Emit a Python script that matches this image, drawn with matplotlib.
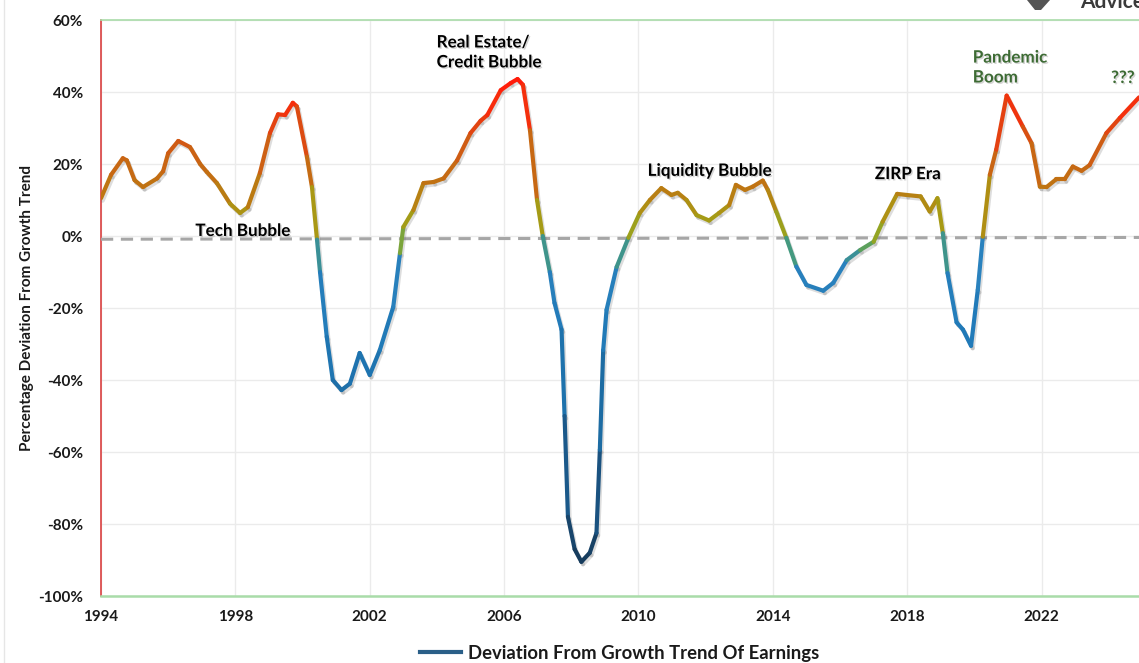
import numpy as np
import matplotlib
matplotlib.use("Agg")
import matplotlib.pyplot as plt
from matplotlib.collections import LineCollection
from matplotlib.colors import LinearSegmentedColormap, Normalize
from matplotlib.lines import Line2D
from matplotlib.patches import Polygon
import matplotlib.patheffects as pe

plt.rcParams['font.family'] = ['Lato', 'DejaVu Sans']

years = [1994.0, 1994.3, 1994.65, 1994.77, 1995.0, 1995.25, 1995.67, 1995.85, 1996.0, 1996.3,
         1996.65, 1996.95, 1997.15, 1997.45, 1997.84, 1998.14, 1998.37, 1998.73, 1999.03, 1999.27,
         1999.48, 1999.71, 1999.83, 2000.13, 2000.28, 2000.43, 2000.52, 2000.72, 2000.9, 2001.16,
         2001.41, 2001.7, 2002.0, 2002.3, 2002.7, 2002.9, 2003.0, 2003.3, 2003.6, 2003.9,
         2004.2, 2004.6, 2005.0, 2005.3, 2005.5, 2005.9, 2006.2, 2006.4, 2006.56, 2006.77,
         2006.98, 2007.15, 2007.36, 2007.5, 2007.71, 2007.8, 2007.9, 2008.1, 2008.3, 2008.55,
         2008.75, 2008.85, 2008.95, 2009.05, 2009.35, 2009.7, 2010.04, 2010.34, 2010.68, 2010.98,
         2011.17, 2011.43, 2011.73, 2012.1, 2012.4, 2012.7, 2012.9, 2013.17, 2013.4, 2013.7,
         2013.85, 2014.1, 2014.4, 2014.7, 2015.0, 2015.5, 2015.8, 2016.2, 2016.6, 2017.0,
         2017.27, 2017.7, 2017.98, 2018.4, 2018.67, 2018.9, 2019.06, 2019.2, 2019.47, 2019.66,
         2019.9, 2020.1, 2020.25, 2020.46, 2020.65, 2020.96, 2021.44, 2021.7, 2021.95, 2022.15,
         2022.44, 2022.69, 2022.93, 2023.19, 2023.43, 2023.93, 2024.33, 2024.9]
deviation = [10.5, 17, 21.6, 21, 15.5, 13.6, 16, 18, 23, 26.4,
             24.7, 20, 17.8, 14.7, 9, 6.4, 8, 17.5, 28.6, 33.8,
             33.6, 37, 36, 22, 13.6, -1, -10, -28, -40, -42.8,
             -41, -32.5, -38.6, -31.7, -19.7, -4.8, 2.5, 7.2, 14.7, 15,
             16, 21, 28.6, 32, 33.6, 40.5, 42.5, 43.6, 42, 29.4,
             10, 0, -10, -18.6, -26, -50, -78, -87, -90.5, -88,
             -82.5, -59.4, -31.7, -20.5, -8.6, -0.5, 6.4, 10, 13.3, 11.4,
             12, 10, 5.8, 4.3, 6.4, 8.6, 14.2, 12.8, 13.7, 15.4,
             12.8, 6.8, -0.5, -8.5, -13.6, -15.2, -13, -6.7, -3.9, -1.6,
             4, 11.7, 11.4, 11, 6.8, 10.5, 0.8, -10.3, -24, -26,
             -30.5, -15, -0.2, 17, 24, 39, 30.4, 25.8, 13.7, 13.6,
             15.8, 15.8, 19.3, 18.1, 19.7, 28.6, 32.8, 38.5]

trend_years = [1994.0, 2024.9]
trend_vals = [-0.9, -0.4]

xticks = [1994, 1998, 2002, 2006, 2010, 2014, 2018, 2022]
yticks = [-100, -80, -60, -40, -20, 0, 20, 40, 60]

annotations = [
    ("Tech Bubble", 1998.23, 1.4, 'center', 'black'),
    ("Real Estate/\nCredit Bubble", 2003.99, 51.0, 'left', 'black'),
    ("Liquidity Bubble", 2012.13, 18.1, 'center', 'black'),
    ("ZIRP Era", 2018.02, 17.2, 'center', 'black'),
    ("Pandemic\nBoom", 2019.95, 46.8, 'left', '#3d6b34'),
    ("???", 2024.42, 43.9, 'center', '#3d6b34'),
]
legend_label = "Deviation From Growth Trend Of Earnings"
ylabel = "Percentage Deviation From Growth Trend"

W, H = 1139, 663
fig = plt.figure(figsize=(W / 100, H / 100), dpi=100)
ax = fig.add_axes([101 / W, (H - 596) / H, (W - 101) / W, 576 / H])

# colour map by value
vmin, vmax = -91, 44
stops = [(-91, '#163a5a'), (-75, '#1a4e7a'), (-50, '#1d689e'), (-30, '#1f78b6'),
         (-7, '#2a82be'), (-3.5, '#4a9e70'), (0, '#8ea626'), (6, '#a89a14'),
         (14, '#bf7412'), (25, '#cf5c14'), (33, '#e83c10'), (39, '#ff250a'), (44, '#ff1a0a')]
cmap = LinearSegmentedColormap.from_list(
    'dev', [((v - vmin) / (vmax - vmin), c) for v, c in stops])
norm = Normalize(vmin, vmax)

x = np.array(years)
y = np.array(deviation)
pts = np.column_stack([x, y]).reshape(-1, 1, 2)
segs = np.concatenate([pts[:-1], pts[1:]], axis=1)
mid = (y[:-1] + y[1:]) / 2
lc = LineCollection(segs, cmap=cmap, norm=norm, linewidths=3.0, capstyle='round',
                    joinstyle='round', zorder=4)
lc.set_array(mid)
lc.set_path_effects([pe.SimpleLineShadow(offset=(1.2, -1.8), shadow_color='#666666', alpha=0.22),
                     pe.Normal()])
ax.add_collection(lc)

# trend dashed line
ax.plot(trend_years, trend_vals, color='#a6a6a6', lw=2.2, ls=(0, (4, 2.5)), zorder=3)

ax.set_xlim(1994, 2024.9)
ax.set_ylim(-100, 60)
ax.set_xticks(xticks)
ax.set_yticks(yticks)
ax.set_yticklabels([f"{v}%" for v in yticks])
ax.grid(True, color='#ebebeb', lw=1)
ax.set_axisbelow(True)
ax.tick_params(axis='both', length=0, labelsize=11)
ax.tick_params(axis='y', pad=13)
ax.tick_params(axis='x', pad=10)
for lab in ax.get_xticklabels() + ax.get_yticklabels():
    lab.set_fontweight('bold')
    lab.set_color('#1a1a1a')

ax.spines['right'].set_visible(False)
ax.spines['left'].set_color('#d94040')
ax.spines['left'].set_linewidth(1.2)
ax.spines['top'].set_color('#a9dca9')
ax.spines['bottom'].set_color('#a9dca9')
ax.spines['top'].set_linewidth(1.2)
ax.spines['bottom'].set_linewidth(1.8)

ax.set_ylabel(ylabel, fontsize=11, fontweight='bold', color='#1a1a1a')
ax.yaxis.set_label_coords(-(101 - 27) / (W - 101), 0.5)
ax.yaxis.label.set_va('center')

for txt, ax_x, ax_y, ha, col in annotations:
    ax.text(ax_x, ax_y, txt, ha=ha, va='center', fontsize=12.3, fontweight='bold', color=col,
            linespacing=1.3, zorder=6,
            path_effects=[pe.withSimplePatchShadow(offset=(1, -1), shadow_rgbFace='#888888', alpha=0.35)])

handle = Line2D([0], [0], color='#2a5f88', lw=3)
leg = fig.legend([handle], [legend_label], loc='center', bbox_to_anchor=(620 / W, 10 / H),
                 frameon=False, prop={'weight': 'bold', 'size': 13.3}, handlelength=2.2,
                 handletextpad=0.4)
for t in leg.get_texts():
    t.set_color('#1a1a1a')

fig.text(1080 / W, 1 - 8 / H, "Advice", fontsize=15, fontweight='bold', color='#3a3a3a',
         va='baseline', ha='left')
fig.add_artist(Polygon([[1027 / W, 1.0], [1050 / W, 1.0], [1041 / W, 1 - 10 / H], [1035 / W, 1 - 10 / H]],
                       closed=True, transform=fig.transFigure, facecolor='#555555', edgecolor='none'))
fig.add_artist(Line2D([4 / W, 4 / W], [0, 1], color='#e6e6e6', lw=1))

fig.savefig("out.png", dpi=100)
